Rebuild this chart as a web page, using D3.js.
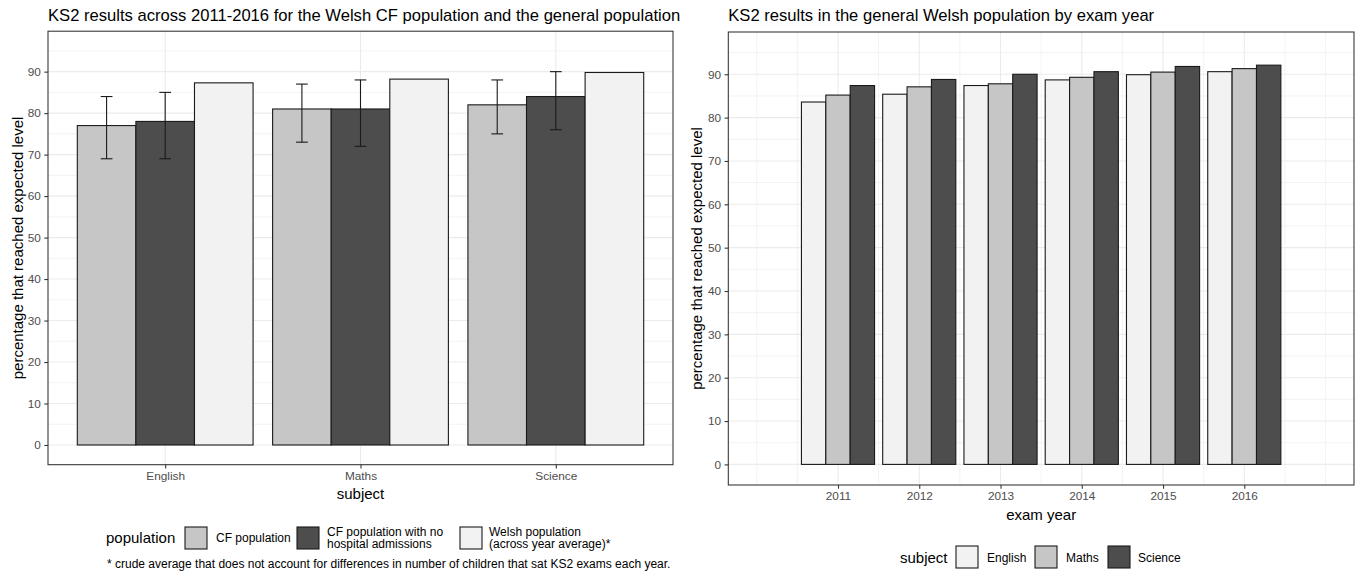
<!DOCTYPE html>
<html>
<head>
<meta charset="utf-8">
<script src="https://cdn.jsdelivr.net/npm/d3@7"></script>
<style>
  body { margin: 0; background: #fff; }
  text { font-family: "Liberation Sans", Arial, sans-serif; }
</style>
</head>
<body>
<svg id="chart" width="1357" height="581"></svg>
<script>
// left panel data
const subjects = ['English', 'Maths', 'Science'];
const populations = ['CF population', 'CF population with no hospital admissions', 'Welsh population (across year average)*'];
const cfPop = [77, 81, 82];
const cfPopLow = [69, 73, 75];
const cfPopHigh = [84, 87, 88];
const cfNoHosp = [78, 81, 84];
const cfNoHospLow = [69, 72, 76];
const cfNoHospHigh = [85, 88, 90];
const welshAvg = [87.3, 88.2, 89.8];

// right panel data
const years = [2011, 2012, 2013, 2014, 2015, 2016];
const english = [83.6, 85.4, 87.4, 88.7, 89.9, 90.6];
const maths = [85.2, 87.1, 87.8, 89.3, 90.5, 91.3];
const science = [87.4, 88.8, 90.0, 90.6, 91.8, 92.1];

const yTicks = [0, 10, 20, 30, 40, 50, 60, 70, 80, 90];
const yMinor = [5, 15, 25, 35, 45, 55, 65, 75, 85, 95];

const popFill = {'CF population': '#c6c6c6', 'CF population with no hospital admissions': '#4d4d4d', 'Welsh population (across year average)*': '#f2f2f2'};
const subjFill = {English: '#f2f2f2', Maths: '#c6c6c6', Science: '#4d4d4d'};

const svg = d3.select('#chart');
svg.append('rect').attr('width', 1357).attr('height', 581).attr('fill', '#fff');

function gridY(g, y, x0, x1) {
  g.selectAll('.minor-y').data(yMinor).enter().append('line')
    .attr('x1', x0).attr('x2', x1)
    .attr('y1', d => y(d)).attr('y2', d => y(d))
    .attr('stroke', '#ebebeb').attr('stroke-width', 0.6);
  g.selectAll('.major-y').data(yTicks).enter().append('line')
    .attr('x1', x0).attr('x2', x1)
    .attr('y1', d => y(d)).attr('y2', d => y(d))
    .attr('stroke', '#ebebeb').attr('stroke-width', 1.1);
}

function styleAxis(g) {
  g.select('.domain').remove();
  g.selectAll('.tick line').attr('stroke', '#333').attr('stroke-width', 1.07);
  g.selectAll('.tick text').attr('fill', '#4d4d4d').style('font-size', '11.8px')
    .style('font-family', '"Liberation Sans", Arial, sans-serif');
}

// ---------- left panel ----------
{
  const L = {left: 48, right: 673, top: 31.2, bottom: 464.7};
  const x = d3.scalePoint().domain(subjects).range([L.left, L.right]).padding(0.6);
  const step = x.step();
  const sub = d3.scaleBand().domain(populations).range([-0.45 * step, 0.45 * step]);
  const y = d3.scaleLinear().domain([-4.75, 99.75]).range([L.bottom, L.top]);
  const g = svg.append('g');

  gridY(g, y, L.left, L.right);
  g.selectAll('.major-x').data(subjects).enter().append('line')
    .attr('x1', d => x(d)).attr('x2', d => x(d))
    .attr('y1', L.top).attr('y2', L.bottom)
    .attr('stroke', '#ebebeb').attr('stroke-width', 1.1);

  const rows = subjects.map((s, i) => [
    {subject: s, pop: populations[0], value: cfPop[i], lo: cfPopLow[i], hi: cfPopHigh[i]},
    {subject: s, pop: populations[1], value: cfNoHosp[i], lo: cfNoHospLow[i], hi: cfNoHospHigh[i]},
    {subject: s, pop: populations[2], value: welshAvg[i]}
  ]).flat();

  g.selectAll('.bar').data(rows).enter().append('rect')
    .attr('x', d => x(d.subject) + sub(d.pop))
    .attr('y', d => y(d.value))
    .attr('width', sub.bandwidth())
    .attr('height', d => y(0) - y(d.value))
    .attr('fill', d => popFill[d.pop])
    .attr('stroke', '#1a1a1a').attr('stroke-width', 1.1);

  const errs = rows.filter(d => d.lo != null);
  const capW = sub.bandwidth() * 0.2;
  const eb = g.selectAll('.err').data(errs).enter().append('g')
    .attr('stroke', '#1a1a1a').attr('stroke-width', 1.1);
  eb.append('line')
    .attr('x1', d => x(d.subject) + sub(d.pop) + sub.bandwidth() / 2)
    .attr('x2', d => x(d.subject) + sub(d.pop) + sub.bandwidth() / 2)
    .attr('y1', d => y(d.lo)).attr('y2', d => y(d.hi));
  ['lo', 'hi'].forEach(k => {
    eb.append('line')
      .attr('x1', d => x(d.subject) + sub(d.pop) + sub.bandwidth() / 2 - capW / 2)
      .attr('x2', d => x(d.subject) + sub(d.pop) + sub.bandwidth() / 2 + capW / 2)
      .attr('y1', d => y(d[k])).attr('y2', d => y(d[k]));
  });

  g.append('rect').attr('x', L.left).attr('y', L.top)
    .attr('width', L.right - L.left).attr('height', L.bottom - L.top)
    .attr('fill', 'none').attr('stroke', '#333').attr('stroke-width', 1.07);

  g.append('g').attr('transform', `translate(${L.left},0)`)
    .call(d3.axisLeft(y).tickValues(yTicks).tickSize(3.7).tickPadding(3.5))
    .call(styleAxis);
  g.append('g').attr('transform', `translate(0,${L.bottom})`)
    .call(d3.axisBottom(x).tickSize(3.7).tickPadding(3))
    .call(styleAxis);

  g.append('text').attr('x', L.left).attr('y', 21)
    .style('font-size', '16.6px').attr('fill', '#000')
    .text('KS2 results across 2011-2016 for the Welsh CF population and the general population');
  g.append('text').attr('transform', `translate(23,${(L.top + L.bottom) / 2}) rotate(-90)`)
    .attr('text-anchor', 'middle').style('font-size', '15px')
    .text('percentage that reached expected level');
  g.append('text').attr('x', (L.left + L.right) / 2).attr('y', 499)
    .attr('text-anchor', 'middle').style('font-size', '15px')
    .text('subject');

  // legend
  const lg = g.append('g');
  lg.append('text').attr('x', 106).attr('y', 543).style('font-size', '15px').text('population');
  const keyX = [185, 297, 460];
  const labX = [216, 327, 489];
  const labLines = [['CF population'], ['CF population with no', 'hospital admissions'], ['Welsh population', '(across year average)*']];
  populations.forEach((p, i) => {
    lg.append('rect').attr('x', keyX[i]).attr('y', 527).attr('width', 22).attr('height', 22)
      .attr('fill', popFill[p]).attr('stroke', '#1a1a1a').attr('stroke-width', 1.1);
    const t = lg.append('text').attr('x', labX[i]).style('font-size', '12px').attr('fill', '#000');
    const lines = labLines[i];
    lines.forEach((s, j) => {
      t.append('tspan').attr('x', labX[i])
        .attr('y', 542 + (j - (lines.length - 1) / 2) * 12.5)
        .text(s);
    });
  });
  lg.append('text').attr('x', 107).attr('y', 568).style('font-size', '12px')
    .text('* crude average that does not account for differences in number of children that sat KS2 exams each year.');
}

// ---------- right panel ----------
{
  const R = {left: 728.3, right: 1354, top: 32, bottom: 485};
  const x = d3.scaleLinear().domain([2009.65, 2017.35]).range([R.left, R.right]);
  const y = d3.scaleLinear().domain([-4.75, 99.75]).range([R.bottom, R.top]);
  const subjOrder = ['English', 'Maths', 'Science'];
  const unit = x(1) - x(0);
  const sub = d3.scaleBand().domain(subjOrder).range([-0.45 * unit, 0.45 * unit]);
  const g = svg.append('g');

  gridY(g, y, R.left, R.right);
  const xMinor = d3.range(2010, 2017.01, 0.5).filter(v => !years.includes(v));
  g.selectAll('.minor-x').data(xMinor).enter().append('line')
    .attr('x1', d => x(d)).attr('x2', d => x(d))
    .attr('y1', R.top).attr('y2', R.bottom)
    .attr('stroke', '#ebebeb').attr('stroke-width', 0.6);
  g.selectAll('.major-x').data(years).enter().append('line')
    .attr('x1', d => x(d)).attr('x2', d => x(d))
    .attr('y1', R.top).attr('y2', R.bottom)
    .attr('stroke', '#ebebeb').attr('stroke-width', 1.1);

  const series = {English: english, Maths: maths, Science: science};
  const rows = years.map((yr, i) => subjOrder.map(s => ({year: yr, subject: s, value: series[s][i]}))).flat();

  g.selectAll('.bar').data(rows).enter().append('rect')
    .attr('x', d => x(d.year) + sub(d.subject))
    .attr('y', d => y(d.value))
    .attr('width', sub.bandwidth())
    .attr('height', d => y(0) - y(d.value))
    .attr('fill', d => subjFill[d.subject])
    .attr('stroke', '#1a1a1a').attr('stroke-width', 1.1);

  g.append('rect').attr('x', R.left).attr('y', R.top)
    .attr('width', R.right - R.left).attr('height', R.bottom - R.top)
    .attr('fill', 'none').attr('stroke', '#333').attr('stroke-width', 1.07);

  g.append('g').attr('transform', `translate(${R.left},0)`)
    .call(d3.axisLeft(y).tickValues(yTicks).tickSize(3.7).tickPadding(3.5))
    .call(styleAxis);
  g.append('g').attr('transform', `translate(0,${R.bottom})`)
    .call(d3.axisBottom(x).tickValues(years).tickFormat(d3.format('d')).tickSize(3.7).tickPadding(3))
    .call(styleAxis);

  g.append('text').attr('x', R.left).attr('y', 21)
    .style('font-size', '16.6px').attr('fill', '#000')
    .text('KS2 results in the general Welsh population by exam year');
  g.append('text').attr('transform', `translate(702,${(R.top + R.bottom) / 2}) rotate(-90)`)
    .attr('text-anchor', 'middle').style('font-size', '15px')
    .text('percentage that reached expected level');
  g.append('text').attr('x', (R.left + R.right) / 2).attr('y', 520)
    .attr('text-anchor', 'middle').style('font-size', '15px')
    .text('exam year');

  const lg = g.append('g');
  lg.append('text').attr('x', 900).attr('y', 563).style('font-size', '15px').text('subject');
  const keyX = [956, 1035, 1108];
  const labX = [987, 1066, 1138];
  subjOrder.forEach((s, i) => {
    lg.append('rect').attr('x', keyX[i]).attr('y', 546).attr('width', 22).attr('height', 22)
      .attr('fill', subjFill[s]).attr('stroke', '#1a1a1a').attr('stroke-width', 1.1);
    lg.append('text').attr('x', labX[i]).attr('y', 561.5).style('font-size', '12px').text(s);
  });
}
</script>
</body>
</html>
